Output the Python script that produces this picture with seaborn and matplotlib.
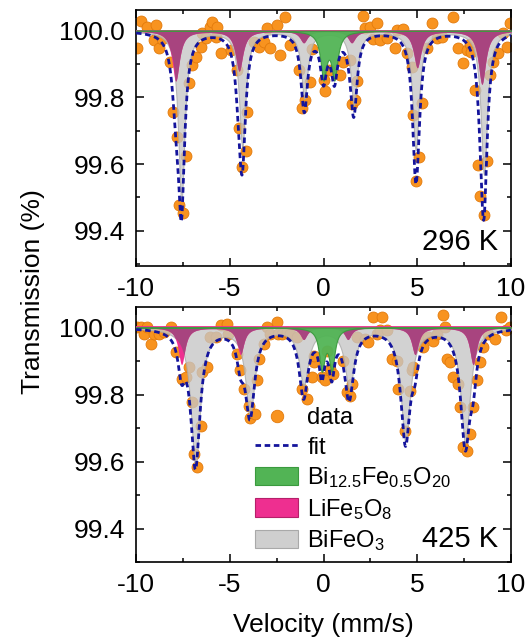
import numpy as np
import matplotlib
matplotlib.use("Agg")
import matplotlib.pyplot as plt
from matplotlib.ticker import MultipleLocator, FormatStrFormatter
from matplotlib.patches import Patch
from matplotlib.lines import Line2D
import seaborn as sns

# ---- measured spectra: velocity (mm/s) and transmission (%) ----
v_296 = [-9.93, -9.75, -9.39, -9.04, -8.95, -8.78, -8.60, -8.19, -8.01, -7.80,
         -7.71, -7.50, -7.36, -7.18, -7.00, -6.82, -6.56, -6.47, -6.29, -6.03,
         -5.94, -5.76, -5.67, -5.49, -4.96, -4.61, -4.52, -4.34, -4.16, -4.07,
         -3.72, -3.46, -3.19, -3.01, -2.84, -2.48, -2.30, -2.04, -1.77, -1.33,
         -1.15, -0.97, -0.71, -0.62, 0.00, 0.09, 0.27, 0.89, 1.06, 1.42,
         1.51, 1.69, 1.81, 2.10, 2.22, 2.48, 2.66, 2.84, 3.02, 3.37,
         3.81, 3.90, 4.26, 4.44, 4.70, 4.79, 4.91, 5.11, 5.23, 5.50,
         5.77, 6.03, 6.30, 6.91, 7.18, 7.45, 7.63, 7.80, 7.89, 8.07,
         8.25, 8.37, 8.55, 8.73, 8.87, 9.04, 9.31, 9.57, 9.76, 9.93]
t_296 = [99.947, 100.030, 100.012, 99.972, 100.017, 99.947, 99.975, 99.907, 99.757, 99.682,
         99.477, 99.452, 99.624, 99.844, 99.897, 99.922, 99.952, 99.992, 99.977, 100.012,
         100.027, 99.982, 100.012, 99.932, 99.942, 99.882, 99.707, 99.590, 99.640, 99.757,
         99.967, 99.952, 99.967, 100.007, 99.947, 100.017, 99.927, 100.042, 99.957, 99.882,
         99.767, 99.792, 99.847, 99.944, 99.852, 99.820, 99.882, 99.867, 99.907, 99.912,
         99.780, 99.792, 99.850, 100.044, 100.007, 100.012, 99.974, 100.022, 99.972, 99.977,
         99.947, 100.002, 100.004, 99.932, 99.892, 99.747, 99.550, 99.620, 99.782, 99.947,
         100.022, 99.977, 99.982, 100.042, 99.947, 99.904, 99.942, 99.959, 99.937, 99.822,
         99.597, 99.504, 99.447, 99.610, 99.867, 99.907, 99.932, 99.992, 99.952, 100.022]

v_425 = [-9.93, -9.75, -9.57, -9.39, -9.22, -9.04, -8.78, -8.51, -8.15, -7.89,
         -7.53, -7.36, -7.18, -7.00, -6.91, -6.74, -6.56, -6.47, -6.20, -6.03,
         -5.76, -5.49, -5.14, -5.10, -4.61, -4.43, -4.25, -3.99, -3.90, -3.63,
         -3.54, -3.46, -3.19, -3.01, -2.84, -2.48, -2.44, -2.21, -1.95, -1.77,
         -1.42, -1.15, -0.88, -0.62, -0.53, -0.50, -0.09, 0.09, 0.18, 0.35,
         0.53, 1.06, 1.24, 1.42, 1.51, 1.77, 2.22, 2.39, 2.66, 2.84,
         3.02, 3.10, 3.37, 3.64, 3.90, 3.99, 4.35, 4.61, 4.70, 4.79,
         5.14, 5.32, 5.59, 5.85, 6.03, 6.38, 6.47, 6.56, 6.74, 6.91,
         7.18, 7.27, 7.45, 7.63, 7.80, 7.98, 8.16, 8.34, 8.51, 8.78,
         9.13, 9.49, 9.75, 9.93]
t_425 = [100.001, 100.001, 99.981, 100.001, 99.951, 99.981, 99.981, 99.985, 100.001, 99.926,
         99.847, 99.852, 99.882, 99.777, 99.623, 99.585, 99.707, 99.867, 99.882, 99.971,
         99.971, 100.006, 100.011, 99.981, 99.921, 99.872, 99.817, 99.766, 99.731, 99.742,
         99.842, 99.907, 99.951, 100.001, 99.981, 100.016, 99.981, 99.981, 99.986, 99.981,
         99.971, 99.817, 99.787, 99.852, 99.896, 99.916, 99.852, 99.842, 99.931, 99.877,
         99.862, 99.901, 99.807, 99.797, 99.832, 99.971, 99.966, 99.956, 100.031, 99.981,
         99.991, 100.031, 99.991, 99.907, 99.901, 99.817, 99.692, 99.812, 99.872, 99.882,
         99.966, 99.941, 99.971, 99.961, 99.981, 100.036, 100.001, 99.907, 99.896, 99.852,
         99.832, 99.762, 99.643, 99.633, 99.683, 99.762, 99.842, 99.896, 99.941, 99.981,
         99.966, 100.031, 99.991, 100.001]

# ---- fitted subspectra: Lorentzian line positions (mm/s), depths (%), half widths (mm/s) ----
bfo_pos_296 = [-7.58, -4.33, -1.02, 1.62, 4.92, 8.56]
bfo_depth_296 = [0.51, 0.345, 0.20, 0.22, 0.355, 0.43]
bfo_hw_296 = 0.21
lfo_pos_296 = [-7.88, -4.50, -1.06, 1.50, 5.00, 8.45]
lfo_depth_296 = [0.15, 0.12, 0.035, 0.035, 0.11, 0.16]
lfo_hw_296 = 0.24
bi_pos_296 = [0.00, 0.58]
bi_depth_296 = [0.135, 0.135]
bi_hw_296 = 0.20

bfo_pos_425 = [-6.83, -3.92, -1.06, 1.38, 4.37, 7.56]
bfo_depth_425 = [0.41, 0.255, 0.165, 0.175, 0.335, 0.34]
bfo_hw_425 = 0.30
lfo_pos_425 = [-7.57, -4.43, -1.06, 1.30, 4.88, 7.98]
lfo_depth_425 = [0.11, 0.08, 0.035, 0.035, 0.08, 0.11]
lfo_hw_425 = 0.22
bi_pos_425 = [-0.09, 0.44]
bi_depth_425 = [0.12, 0.12]
bi_hw_425 = 0.18

temperatures = ["296 K", "425 K"]
legend_labels = ["data", "fit", r"Bi$_{12.5}$Fe$_{0.5}$O$_{20}$", r"LiFe$_5$O$_8$", r"BiFeO$_3$"]

ORANGE = "#F8931F"
ORANGE_EDGE = "#E27A0C"
NAVY = "#14149C"
GREEN = "#52B455"
GREEN_EDGE = "#3A9A3E"
PINK = "#EE2F90"
PURPLE = "#A5467F"
GRAY = "#C6C6C6"
GRAY_EDGE = "#A9A9A9"

sns.set_theme(style="ticks")
plt.rcParams["font.family"] = ["Liberation Sans", "DejaVu Sans"]
plt.rcParams["mathtext.fontset"] = "custom"
plt.rcParams["mathtext.rm"] = "Liberation Sans"
plt.rcParams["mathtext.it"] = "Liberation Sans"
plt.rcParams["axes.unicode_minus"] = False
plt.rcParams["text.color"] = "black"
plt.rcParams["axes.labelcolor"] = "black"
plt.rcParams["xtick.color"] = "black"
plt.rcParams["ytick.color"] = "black"


def subspectrum(v, pos, depth, hw):
    v = np.asarray(v)[:, None]
    pos = np.asarray(pos)[None, :]
    depth = np.asarray(depth)[None, :]
    return (depth / (1.0 + ((v - pos) / hw) ** 2)).sum(axis=1)


def draw_panel(ax, v, t, bfo_p, lfo_p, bi_p, label, ylim):
    grid = np.linspace(-10, 10, 2401)
    bfo = subspectrum(grid, *bfo_p)
    lfo = subspectrum(grid, *lfo_p)
    bi = subspectrum(grid, *bi_p)
    fit = 100.0 - (bfo + lfo + bi)

    sns.scatterplot(x=v, y=t, ax=ax, color=ORANGE, edgecolor=ORANGE_EDGE,
                    linewidth=0.6, s=62, zorder=2, legend=False)
    ax.fill_between(grid, 100.0, 100.0 - bfo, facecolor=GRAY, edgecolor=GRAY_EDGE,
                    linewidth=0.8, alpha=0.78, zorder=3)
    ax.fill_between(grid, 100.0, 100.0 - lfo, facecolor=PINK, linewidth=0, zorder=3.4)
    ax.fill_between(grid, 100.0, 100.0 - np.minimum(lfo, bfo), facecolor=PURPLE,
                    linewidth=0, alpha=0.95, zorder=3.5)
    ax.axhline(100.0, color=PINK, lw=1.3, zorder=3.6)
    ax.fill_between(grid, 100.0, 100.0 - bi, facecolor=GREEN, edgecolor=GREEN_EDGE,
                    linewidth=0.8, alpha=0.95, zorder=4)
    sns.lineplot(x=grid, y=fit, ax=ax, color=NAVY, lw=2.0,
                 linestyle=(0, (2.0, 1.3)), estimator=None, sort=False, zorder=5)

    ax.set_xlim(-10, 10)
    ax.set_ylim(*ylim)
    ax.xaxis.set_major_locator(MultipleLocator(5))
    ax.xaxis.set_minor_locator(MultipleLocator(2.5))
    ax.yaxis.set_major_locator(MultipleLocator(0.2))
    ax.yaxis.set_minor_locator(MultipleLocator(0.1))
    ax.yaxis.set_major_formatter(FormatStrFormatter("%.1f"))
    ax.tick_params(which="both", direction="in", top=True, right=True,
                   width=1.1, color="black", labelcolor="black")
    ax.tick_params(which="major", length=5.5, labelsize=19, pad=8)
    ax.tick_params(which="minor", length=3.2)
    for s in ax.spines.values():
        s.set_linewidth(1.2)
        s.set_color("black")
    ax.set_xlabel("")
    ax.set_ylabel("")
    ax.text(0.965, 0.06, label, transform=ax.transAxes, ha="right",
            va="baseline", fontsize=21, color="black", zorder=6)


fig = plt.figure(figsize=(5.29, 6.40), dpi=100)
ax_top = fig.add_axes([0.2571, 0.5848, 0.7089, 0.3995])
ax_bot = fig.add_axes([0.2571, 0.1214, 0.7089, 0.3984])

draw_panel(ax_top, v_296, t_296,
           (bfo_pos_296, bfo_depth_296, bfo_hw_296),
           (lfo_pos_296, lfo_depth_296, lfo_hw_296),
           (bi_pos_296, bi_depth_296, bi_hw_296),
           temperatures[0], (99.295, 100.062))
draw_panel(ax_bot, v_425, t_425,
           (bfo_pos_425, bfo_depth_425, bfo_hw_425),
           (lfo_pos_425, lfo_depth_425, lfo_hw_425),
           (bi_pos_425, bi_depth_425, bi_hw_425),
           temperatures[1], (99.30, 100.06))

ax_bot.set_xlabel("Velocity (mm/s)", fontsize=19, labelpad=11, color="black")
fig.text(0.062, 0.545, "Transmission (%)", rotation=90, ha="center",
         va="center", fontsize=19, color="black")

handles = [
    Line2D([], [], marker="o", linestyle="none", markersize=9,
           markerfacecolor=ORANGE, markeredgecolor=ORANGE_EDGE, markeredgewidth=0.6),
    Line2D([], [], color=NAVY, lw=2.0, linestyle=(0, (2.0, 1.3))),
    Patch(facecolor=GREEN, edgecolor=GREEN_EDGE, linewidth=0.8),
    Patch(facecolor=PINK, edgecolor="#B5206A", linewidth=0.8),
    Patch(facecolor="#CFCFCF", edgecolor=GRAY_EDGE, linewidth=0.8),
]
ax_bot.legend(handles, legend_labels, loc="upper left",
              bbox_to_anchor=(0.318, 0.61), frameon=False, fontsize=17,
              handlelength=1.8, handleheight=0.85, handletextpad=0.4,
              labelspacing=0.28, borderpad=0, borderaxespad=0)

fig.savefig("out.png", dpi=100)
